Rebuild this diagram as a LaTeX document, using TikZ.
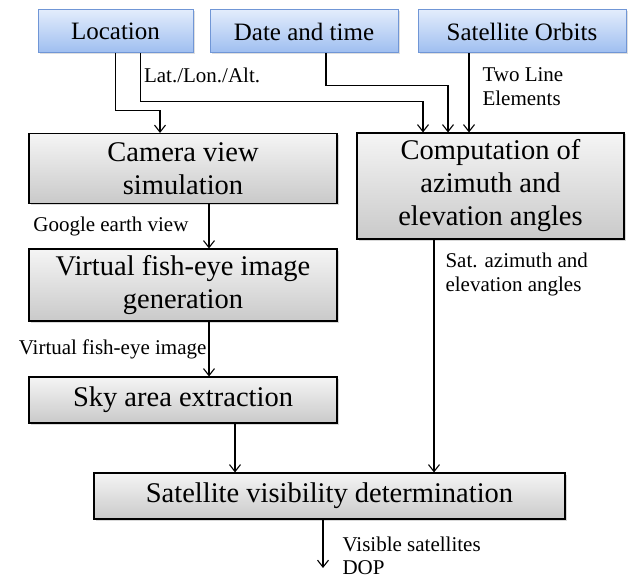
\documentclass[tikz,border=0pt]{standalone}
\usepackage{fontspec}
\setmainfont{Liberation Serif}
\usepackage{tikz}
\usetikzlibrary{arrows.meta,shadows,positioning}

\definecolor{inlight}{RGB}{226,236,252}
\definecolor{indark}{RGB}{158,190,240}
\definecolor{inedge}{RGB}{112,150,214}

\tikzset{
  inbox/.style={draw=inedge, line width=1pt, top color=inlight, bottom color=indark,
    drop shadow={opacity=0.25, shadow xshift=1.5pt, shadow yshift=-1.5pt},
    font=\fontsize{25}{28}\selectfont, inner sep=0pt},
  procbox/.style={draw=black, line width=1.1pt, top color=gray!8, bottom color=gray!42,
    drop shadow={opacity=0.3, shadow xshift=1.5pt, shadow yshift=-1.5pt},
    font=\fontsize{28.5}{33}\selectfont, align=center, inner sep=0pt},
  lbl/.style={font=\fontsize{21}{23.5}\selectfont, align=left, inner sep=0pt},
  arr/.style={line width=1.1pt, -{Straight Barb[length=7pt,width=11pt,line width=1.1pt]}}
}

\begin{document}
\begin{tikzpicture}[x=1pt, y=-1pt]
\useasboundingbox (0,0) rectangle (629,580);
% inputs
\node[inbox, minimum width=155pt, minimum height=43pt] (loc)  at (115.5,31.5) {Location};
\node[inbox, minimum width=188pt, minimum height=43pt] (date) at (304,31.5)   {Date and time};
\node[inbox, minimum width=208pt, minimum height=43pt] (orb)  at (522,31.5)   {Satellite Orbits};
% processing steps
\node[procbox, minimum width=308pt, minimum height=70pt]  (cam)  at (183,168.5) {Camera view\\simulation};
\node[procbox, minimum width=267pt, minimum height=106pt] (comp) at (490.5,186) {Computation of\\azimuth and\\elevation angles};
\node[procbox, minimum width=308pt, minimum height=72pt]  (fish) at (183,285)   {Virtual fish-eye image\\generation};
\node[procbox, minimum width=308pt, minimum height=46pt]  (sky)  at (183,400)   {Sky area extraction};
\node[procbox, minimum width=471pt, minimum height=46pt]  (vis)  at (329.5,496) {Satellite visibility determination};
\coordinate (out) at (323,568);

\draw[arr] (loc.south) -- ++(0,57) -| ([xshift=-23pt]cam.north);
\draw[arr] ([xshift=25pt]loc.south) -- node[lbl, right=3pt, pos=0.45] {Lat./Lon./Alt.} ++(0,48)
  -| ([xshift=-67.5pt]comp.north);
\draw[arr] ([xshift=22pt]date.south) -- ++(0,32) -| ([xshift=-42.5pt]comp.north);
\draw[arr] ([xshift=-53pt]orb.south) -- node[lbl, right=13pt, pos=0.42] {Two Line\\Elements} ([xshift=-21.5pt]comp.north);

\draw[arr] ([xshift=26pt]cam.south) -- node[lbl, left=20pt] {Google earth view} ([xshift=26pt]fish.north);
\draw[arr] ([xshift=26pt]fish.south) -- node[lbl, left=2pt] {Virtual fish-eye image} ([xshift=26pt]sky.north);
\draw[arr] ([xshift=52pt]sky.south) -- ([xshift=-94.5pt]vis.north);
\draw[arr] ([xshift=-56.5pt]comp.south) -- node[lbl, right=11pt, pos=0.15] {Sat. azimuth and\\elevation angles} ([xshift=104.5pt]vis.north);
\draw[arr] ([xshift=-6.5pt]vis.south) -- node[lbl, right=19pt, pos=0.75] {Visible satellites\\DOP} (out);
\end{tikzpicture}
\end{document}
